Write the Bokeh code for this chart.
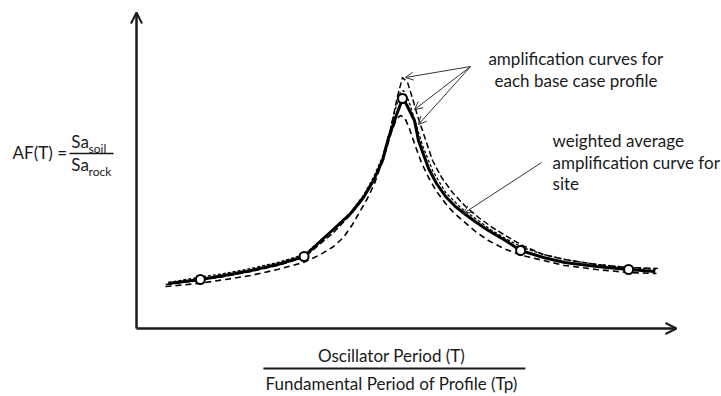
from bokeh.plotting import figure
from bokeh.models import Arrow, OpenHead, Range1d
from bokeh.core.properties import value
from bokeh.embed import file_html
from bokeh.resources import INLINE

# ---- data (x = T/Tp, y = AF) ----
avg_x = [0.12, 0.24, 0.33, 0.43, 0.53, 0.63, 0.69, 0.74, 0.805, 0.853, 0.891, 0.925, 0.947,
         0.974, 0.992, 1.00, 1.015, 1.045, 1.06, 1.098, 1.128, 1.162, 1.199, 1.237, 1.278,
         1.323, 1.387, 1.444, 1.53, 1.61, 1.73, 1.85, 1.95]
avg_y = [0.90, 0.98, 1.06, 1.16, 1.28, 1.44, 1.74, 1.98, 2.30, 2.62, 2.96, 3.36, 3.80,
         4.22, 4.48, 4.60, 4.48, 4.16, 3.76, 3.20, 2.90, 2.64, 2.44, 2.28, 2.12,
         1.96, 1.76, 1.56, 1.42, 1.32, 1.24, 1.18, 1.14]

mark_x = [0.24, 0.63, 1.00, 1.444, 1.85]
mark_y = [0.98, 1.44, 4.60, 1.56, 1.18]

caseA_x = [0.11, 0.23, 0.33, 0.43, 0.53, 0.63, 0.741, 0.805, 0.853, 0.891, 0.925, 0.947, 0.966,
           0.981, 1.00, 1.019, 1.038, 1.056, 1.075, 1.113, 1.147, 1.188, 1.237, 1.286,
           1.338, 1.387, 1.451, 1.53, 1.61, 1.73, 1.85, 1.96]
caseA_y = [0.88, 0.96, 1.04, 1.14, 1.26, 1.42, 1.92, 2.28, 2.60, 2.96, 3.40, 3.80, 4.26,
           4.64, 5.02, 4.92, 4.60, 4.26, 3.96, 3.36, 3.02, 2.72, 2.44, 2.22,
           2.02, 1.86, 1.66, 1.48, 1.38, 1.28, 1.22, 1.20]

caseB_x = [0.109, 0.233, 0.335, 0.429, 0.53, 0.628, 0.692, 0.741, 0.778, 0.812, 0.842, 0.868,
           0.895, 0.917, 0.94, 0.959, 0.977, 0.992, 1.008, 1.026, 1.049, 1.071, 1.098,
           1.128, 1.162, 1.192, 1.226, 1.274, 1.323, 1.38, 1.451, 1.53, 1.609, 1.729,
           1.85, 1.955]
caseB_y = [0.84, 0.90, 0.98, 1.06, 1.18, 1.32, 1.48, 1.64, 1.82, 2.08, 2.36, 2.60,
           2.90, 3.24, 3.60, 3.94, 4.18, 4.26, 4.22, 4.00, 3.64, 3.32, 3.02,
           2.74, 2.50, 2.32, 2.16, 1.94, 1.76, 1.60, 1.46, 1.36, 1.26, 1.18,
           1.12, 1.10]

caseC_x = [0.12, 0.23, 0.33, 0.43, 0.53, 0.63, 0.692, 0.741, 0.805, 0.853, 0.891, 0.925,
           0.951, 0.974, 0.992, 1.004, 1.023, 1.049, 1.075, 1.113, 1.162, 1.218, 1.274,
           1.331, 1.387, 1.451, 1.53, 1.61, 1.73, 1.85, 1.96]
caseC_y = [0.92, 1.02, 1.10, 1.20, 1.32, 1.48, 1.76, 2.00, 2.32, 2.66, 3.02, 3.44,
           3.92, 4.40, 4.72, 4.76, 4.56, 4.12, 3.66, 3.16, 2.72, 2.42, 2.20,
           1.98, 1.80, 1.62, 1.48, 1.38, 1.28, 1.22, 1.18]

note_cases = ["amplification curves for", "each base case profile"]
note_avg = ["weighted average", "amplification curve for", "site"]
x_label_top = "Oscillator Period (T)"
x_label_bottom = "Fundamental Period of Profile (Tp)"

FONT = value("Lato")
INK = "#1a1a1a"

p = figure(width=721, height=396, output_backend="svg", toolbar_location=None,
           x_axis_type=None, y_axis_type=None, min_border=0,
           x_range=Range1d(-0.51128, 2.19925), y_range=Range1d(-1.36, 6.56))
p.outline_line_color = None
p.xgrid.visible = False
p.ygrid.visible = False

# axes as arrows
p.add_layout(Arrow(x_start=0, y_start=0, x_end=0, y_end=6.32, line_width=2.5, line_color=INK,
                   end=OpenHead(size=11, line_width=2, line_color=INK)))
p.add_layout(Arrow(x_start=0, y_start=0, x_end=2.03, y_end=0, line_width=2.5, line_color=INK,
                   end=OpenHead(size=11, line_width=2, line_color=INK)))

# curves
p.line(caseB_x, caseB_y, line_color="black", line_width=1.6, line_dash="6 4")
p.line(caseA_x, caseA_y, line_color="black", line_width=1.5, line_dash="6 3")
p.line(caseC_x, caseC_y, line_color="black", line_width=1.3, line_dash="3 2")
p.line(avg_x, avg_y, line_color="black", line_width=3)
p.scatter(mark_x, mark_y, size=9, fill_color="white", line_color="black", line_width=2)

# annotation arrows
arrow_kw = dict(line_color="#333333", line_width=1)
for xe, ye in [(1.011, 5.02), (1.045, 4.38), (1.060, 4.08)]:
    p.add_layout(Arrow(x_start=1.256, y_start=5.24, x_end=xe, y_end=ye,
                       end=OpenHead(size=8, line_width=1, line_color="#333333"), **arrow_kw))
p.add_layout(Arrow(x_start=1.523, y_start=3.32, x_end=1.229, y_end=2.30,
                   end=OpenHead(size=8, line_width=1, line_color="#333333"), **arrow_kw))

tk = dict(text_font=FONT, text_font_size="17px", text_color=INK, text_baseline="middle")
p.text(x=[1.323, 1.346], y=[5.40, 4.96], text=note_cases, **tk)
p.text(x=[1.564] * 3, y=[3.76, 3.32, 2.90], text=note_avg, **tk)

# y label: AF(T) = Sa_soil / Sa_rock
p.text(x=[-0.466], y=[3.52], text=["AF(T) ="], **tk)
p.text(x=[-0.245, -0.245], y=[3.74, 3.28], text=["Sa", "Sa"], **tk)
p.text(x=[-0.180, -0.180], y=[3.60, 3.14], text=["soil", "rock"],
       text_font=FONT, text_font_size="12px", text_color=INK, text_baseline="middle")
p.line([-0.252, -0.086], [3.50, 3.50], line_color=INK, line_width=1.5)

# x label fraction
p.text(x=[0.959], y=[-0.54], text=[x_label_top], text_align="center", **tk)
p.line([0.477, 1.462], [-0.80, -0.80], line_color=INK, line_width=2)
p.text(x=[0.959], y=[-1.10], text=[x_label_bottom], text_align="center", **tk)

open("out.html", "w").write(file_html(p, INLINE))
